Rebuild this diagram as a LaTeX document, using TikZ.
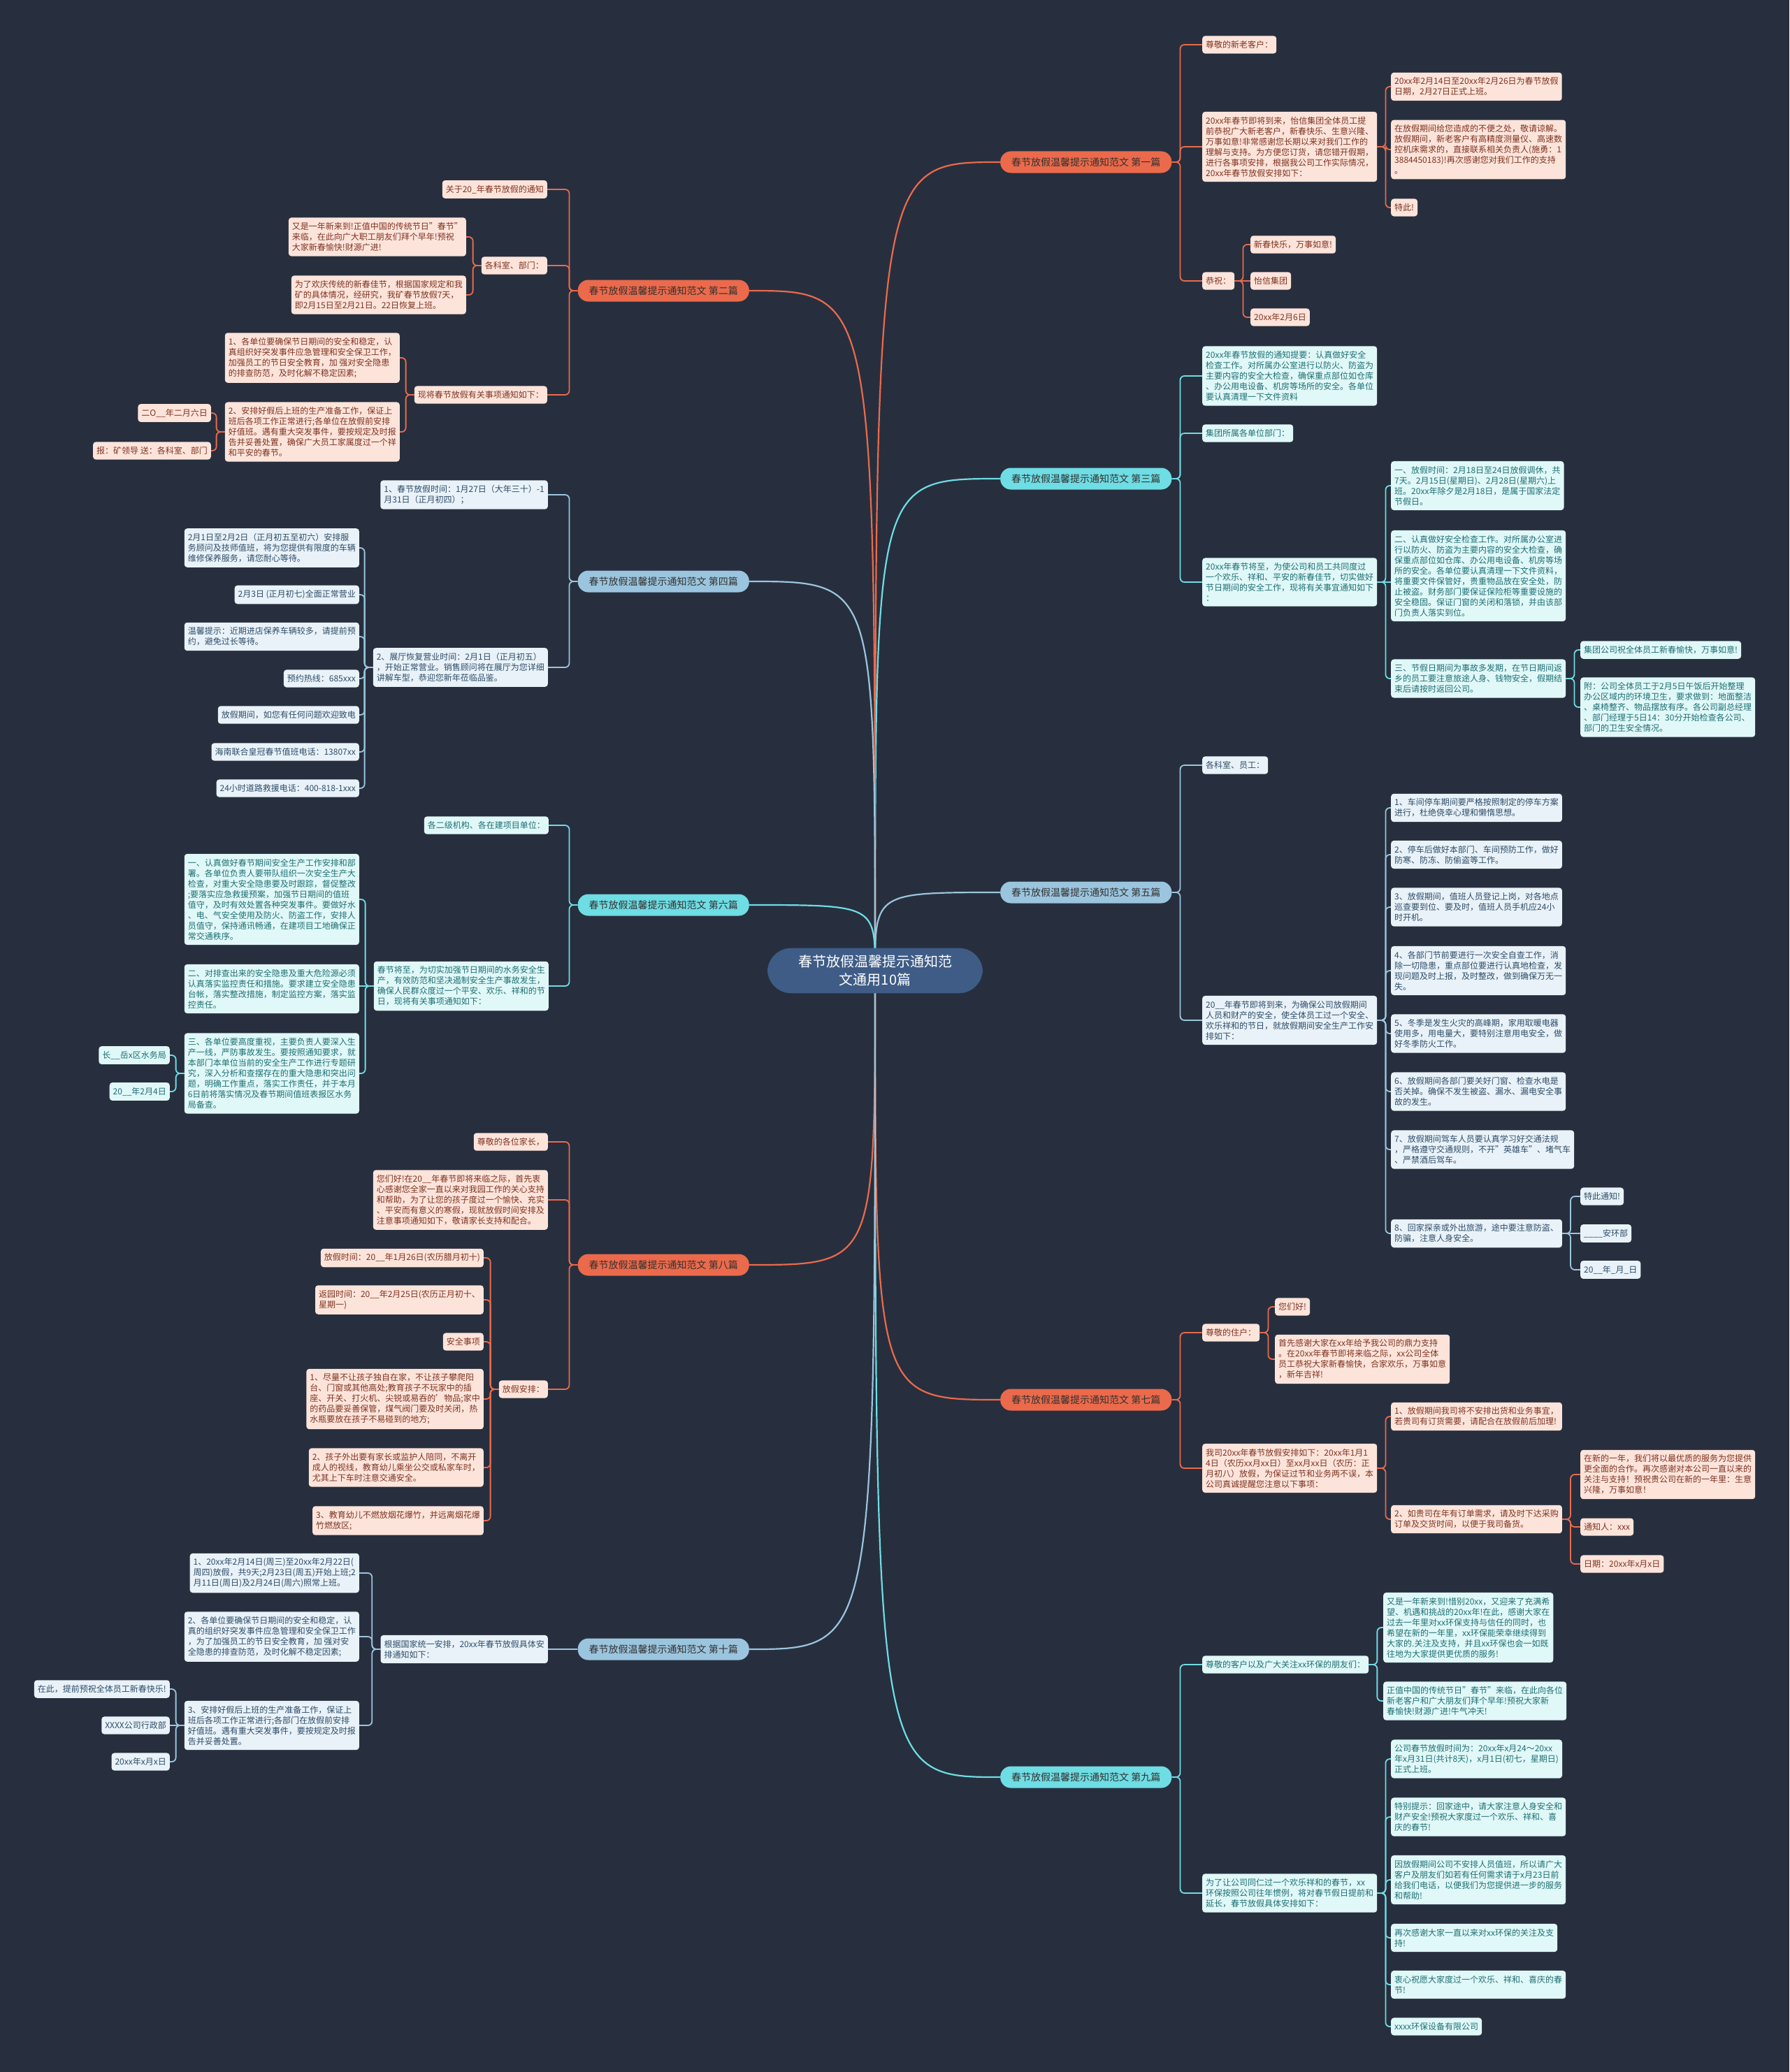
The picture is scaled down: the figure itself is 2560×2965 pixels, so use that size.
\documentclass[tikz,border=0pt]{standalone}
\usepackage{fontspec}
\setmainfont{Noto Sans CJK SC}
\usetikzlibrary{calc,backgrounds}
\definecolor{bgc}{HTML}{272F3E}
\definecolor{ctrc}{HTML}{3E5C86}
\definecolor{org}{HTML}{EB6A4B}
\definecolor{cyn}{HTML}{6EDDE4}
\definecolor{lbl}{HTML}{9BC5DE}
\definecolor{orl}{HTML}{FDE4DB}
\definecolor{ort}{HTML}{7E3320}
\definecolor{cyl}{HTML}{E1F8F8}
\definecolor{cyt}{HTML}{1D6F73}
\definecolor{lbf}{HTML}{E9F2F8}
\definecolor{lbt}{HTML}{2E4C69}
\definecolor{brt}{HTML}{33302F}
\newcommand{\rlink}[3]{\draw[#1] (#2.east) -- ++(12,0) |- (#3.west);}
\newcommand{\llink}[3]{\draw[#1] (#2.west) -- ++(-12,0) |- (#3.east);}
\newcommand{\rflat}[3]{\draw[#1] (#2.east) -- (#2.east -| #3.west);}
\newcommand{\lflat}[3]{\draw[#1] (#2.west) -- (#2.west -| #3.east);}
\newcommand{\rbend}[2]{\draw[#1] (root.center) .. controls (root.center |- #2.west) .. (#2.west);}
\newcommand{\lbend}[2]{\draw[#1] (root.center) .. controls (root.center |- #2.east) .. (#2.east);}
\tikzset{
  ctr/.style={fill=ctrc,text=white,rounded corners=34pt,align=center,inner xsep=44pt,inner ysep=10pt,font=\fontsize{20}{26}\selectfont},
  br/.style={rounded corners=15pt,minimum height=31pt,inner xsep=16pt,text=brt,font=\fontsize{14}{17}\selectfont},
  obr/.style={br,fill=org}, cbr/.style={br,fill=cyn}, bbr/.style={br,fill=lbl},
  lf/.style={rounded corners=4pt,align=left,inner xsep=5pt,inner ysep=7pt,font=\fontsize{12}{15}\selectfont},
  olf/.style={lf,fill=orl,text=ort}, clf/.style={lf,fill=cyl,text=cyt}, blf/.style={lf,fill=lbf,text=lbt},
  lk/.style={line width=1.8pt,rounded corners=6pt},
  olk/.style={lk,draw=org}, clk/.style={lk,draw=cyn}, blk/.style={lk,draw=lbl},
  mn/.style={line width=2.2pt},
  omn/.style={mn,draw=org}, cmn/.style={mn,draw=cyn}, bmn/.style={mn,draw=lbl},
}
\begin{document}
\begin{tikzpicture}[x=1pt,y=-1pt]
  \useasboundingbox (0,0) rectangle (2560,2965);
  \begin{scope}[on background layer]
    \fill[bgc] (0,0) rectangle (2560,2965);
  \end{scope}

  \node[ctr] (root) at (1252,1389) {春节放假温馨提示通知范\\文通用10篇};

  % branches
  \node[obr,anchor=west] (b1) at (1431,232) {春节放假温馨提示通知范文 第一篇};
  \node[cbr,anchor=west] (b3) at (1431,685) {春节放假温馨提示通知范文 第三篇};
  \node[bbr,anchor=west] (b5) at (1431,1277) {春节放假温馨提示通知范文 第五篇};
  \node[obr,anchor=west] (b7) at (1431,2003) {春节放假温馨提示通知范文 第七篇};
  \node[cbr,anchor=west] (b9) at (1431,2543) {春节放假温馨提示通知范文 第九篇};
  \node[obr,anchor=east] (b2) at (1072,416) {春节放假温馨提示通知范文 第二篇};
  \node[bbr,anchor=east] (b4) at (1072,832) {春节放假温馨提示通知范文 第四篇};
  \node[cbr,anchor=east] (b6) at (1072,1295) {春节放假温馨提示通知范文 第六篇};
  \node[obr,anchor=east] (b8) at (1072,1810) {春节放假温馨提示通知范文 第八篇};
  \node[bbr,anchor=east] (b10) at (1072,2360) {春节放假温馨提示通知范文 第十篇};

  % 第一篇
  \node[olf,anchor=west] (a1) at (1720,64) {尊敬的新老客户：};
  \node[olf,anchor=west] (a2) at (1720,210) {20xx年春节即将到来，怡信集团全体员工提\\前恭祝广大新老客户，新春快乐、生意兴隆、\\万事如意!非常感谢您长期以来对我们工作的\\理解与支持。为方便您订货，请您错开假期，\\进行各事项安排，根据我公司工作实际情况，\\20xx年春节放假安排如下：};
  \node[olf,anchor=west] (a3) at (1720,402) {恭祝：};
  \node[olf,anchor=west] (a21) at (1990,124) {20xx年2月14日至20xx年2月26日为春节放假\\日期，2月27日正式上班。};
  \node[olf,anchor=west] (a22) at (1990,214) {在放假期间给您造成的不便之处，敬请谅解。\\放假期间，新老客户有高精度测量仪、高速数\\控机床需求的，直接联系相关负责人(施勇：1\\3884450183)!再次感谢您对我们工作的支持\\。};
  \node[olf,anchor=west] (a23) at (1990,297) {特此!};
  \node[olf,anchor=west] (a31) at (1789,350) {新春快乐，万事如意!};
  \node[olf,anchor=west] (a32) at (1789,402) {怡信集团};
  \node[olf,anchor=west] (a33) at (1789,454) {20xx年2月6日};

  % 第三篇
  \node[clf,anchor=west] (c1) at (1720,538) {20xx年春节放假的通知提要：认真做好安全\\检查工作。对所属办公室进行以防火、防盗为\\主要内容的安全大检查，确保重点部位如仓库\\、办公用电设备、机房等场所的安全。各单位\\要认真清理一下文件资料};
  \node[clf,anchor=west] (c2) at (1720,620) {集团所属各单位部门：};
  \node[clf,anchor=west] (c3) at (1720,833) {20xx年春节将至，为使公司和员工共同度过\\一个欢乐、祥和、平安的新春佳节，切实做好\\节日期间的安全工作，现将有关事宜通知如下\\：};
  \node[clf,anchor=west] (c31) at (1990,695) {一、放假时间：2月18日至24日放假调休，共\\7天。2月15日(星期日)、2月28日(星期六)上\\班。20xx年除夕是2月18日，是属于国家法定\\节假日。};
  \node[clf,anchor=west] (c32) at (1990,824) {二、认真做好安全检查工作。对所属办公室进\\行以防火、防盗为主要内容的安全大检查，确\\保重点部位如仓库、办公用电设备、机房等场\\所的安全。各单位要认真清理一下文件资料，\\将重要文件保管好，贵重物品放在安全处，防\\止被盗。财务部门要保证保险柜等重要设施的\\安全稳固。保证门窗的关闭和落锁，并由该部\\门负责人落实到位。};
  \node[clf,anchor=west] (c33) at (1990,971) {三、节假日期间为事故多发期，在节日期间返\\乡的员工要注意旅途人身、钱物安全，假期结\\束后请按时返回公司。};
  \node[clf,anchor=west] (c331) at (2261,930) {集团公司祝全体员工新春愉快，万事如意!};
  \node[clf,anchor=west] (c332) at (2261,1012) {附：公司全体员工于2月5日午饭后开始整理\\办公区域内的环境卫生，要求做到：地面整洁\\、桌椅整齐、物品摆放有序。各公司副总经理\\、部门经理于5日14：30分开始检查各公司、\\部门的卫生安全情况。};

  % 第五篇
  \node[blf,anchor=west] (e1) at (1720,1095) {各科室、员工：};
  \node[blf,anchor=west] (e2) at (1720,1460) {20\_\_年春节即将到来，为确保公司放假期间\\人员和财产的安全，使全体员工过一个安全、\\欢乐祥和的节日，就放假期间安全生产工作安\\排如下：};
  \node[blf,anchor=west] (e21) at (1990,1156) {1、车间停车期间要严格按照制定的停车方案\\进行，杜绝侥幸心理和懒惰思想。};
  \node[blf,anchor=west] (e22) at (1990,1223) {2、停车后做好本部门、车间预防工作，做好\\防寒、防冻、防偷盗等工作。};
  \node[blf,anchor=west] (e23) at (1990,1298) {3、放假期间，值班人员登记上岗，对各地点\\巡查要到位、要及时，值班人员手机应24小\\时开机。};
  \node[blf,anchor=west] (e24) at (1990,1389) {4、各部门节前要进行一次安全自查工作，消\\除一切隐患，重点部位要进行认真地检查，发\\现问题及时上报，及时整改，做到确保万无一\\失。};
  \node[blf,anchor=west] (e25) at (1990,1479) {5、冬季是发生火灾的高峰期，家用取暖电器\\使用多，用电量大，要特别注意用电安全，做\\好冬季防火工作。};
  \node[blf,anchor=west] (e26) at (1990,1562) {6、放假期间各部门要关好门窗、检查水电是\\否关掉。确保不发生被盗、漏水、漏电安全事\\故的发生。};
  \node[blf,anchor=west] (e27) at (1990,1645) {7、放假期间驾车人员要认真学习好交通法规\\，严格遵守交通规则，不开"英雄车"、堵气车\\、严禁酒后驾车。};
  \node[blf,anchor=west] (e28) at (1990,1765) {8、回家探亲或外出旅游，途中要注意防盗、\\防骗，注意人身安全。};
  \node[blf,anchor=west] (e281) at (2261,1712) {特此通知!};
  \node[blf,anchor=west] (e282) at (2261,1765) {\_\_\_\_安环部};
  \node[blf,anchor=west] (e283) at (2261,1817) {20\_\_年\_月\_日};

  % 第七篇
  \node[olf,anchor=west] (g1) at (1720,1907) {尊敬的住户：};
  \node[olf,anchor=west] (g2) at (1720,2101) {我司20xx年春节放假安排如下：20xx年1月1\\4日（农历xx月xx日）至xx月xx日（农历：正\\月初八）放假，为保证过节和业务两不误，本\\公司真诚提醒您注意以下事项：};
  \node[olf,anchor=west] (g11) at (1824,1870) {您们好!};
  \node[olf,anchor=west] (g12) at (1824,1945) {首先感谢大家在xx年给予我公司的鼎力支持\\。在20xx年春节即将来临之际，xx公司全体\\员工恭祝大家新春愉快，合家欢乐，万事如意\\，新年吉祥!};
  \node[olf,anchor=west] (g21) at (1990,2027) {1、放假期间我司将不安排出货和业务事宜，\\若贵司有订货需要，请配合在放假前后加理!};
  \node[olf,anchor=west] (g22) at (1990,2174) {2、如贵司在年有订单需求，请及时下达采购\\订单及交货时间，以便于我司备货。};
  \node[olf,anchor=west] (g221) at (2261,2110) {在新的一年，我们将以最优质的服务为您提供\\更全面的合作。再次感谢对本公司一直以来的\\关注与支持！预祝贵公司在新的一年里：生意\\兴隆，万事如意！};
  \node[olf,anchor=west] (g222) at (2261,2185) {通知人：xxx};
  \node[olf,anchor=west] (g223) at (2261,2238) {日期：20xx年x月x日};

  % 第九篇
  \node[clf,anchor=west] (i1) at (1720,2382) {尊敬的客户以及广大关注xx环保的朋友们：};
  \node[clf,anchor=west] (i2) at (1720,2709) {为了让公司同仁过一个欢乐祥和的春节，xx\\环保按照公司往年惯例，将对春节假日提前和\\延长，春节放假具体安排如下：};
  \node[clf,anchor=west] (i11) at (1979,2329) {又是一年新来到!惜别20xx，又迎来了充满希\\望、机遇和挑战的20xx年!在此，感谢大家在\\过去一年里对xx环保支持与信任的同时，也\\希望在新的一年里，xx环保能荣幸继续得到\\大家的.关注及支持，并且xx环保也会一如既\\往地为大家提供更优质的服务!};
  \node[clf,anchor=west] (i12) at (1979,2434) {正值中国的传统节日"春节"来临，在此向各位\\新老客户和广大朋友们拜个早年!预祝大家新\\春愉快!财源广进!牛气冲天!};
  \node[clf,anchor=west] (i21) at (1990,2517) {公司春节放假时间为：20xx年x月24～20xx\\年x月31日(共计8天)，x月1日(初七，星期日)\\正式上班。};
  \node[clf,anchor=west] (i22) at (1990,2600) {特别提示：回家途中，请大家注意人身安全和\\财产安全!预祝大家度过一个欢乐、祥和、喜\\庆的春节!};
  \node[clf,anchor=west] (i23) at (1990,2690) {因放假期间公司不安排人员值班，所以请广大\\客户及朋友们如若有任何需求请于x月23日前\\给我们电话，以便我们为您提供进一步的服务\\和帮助!};
  \node[clf,anchor=west] (i24) at (1990,2773) {再次感谢大家一直以来对xx环保的关注及支\\持!};
  \node[clf,anchor=west] (i25) at (1990,2840) {衷心祝愿大家度过一个欢乐、祥和、喜庆的春\\节!};
  \node[clf,anchor=west] (i26) at (1990,2900) {xxxx环保设备有限公司};

  % 第二篇
  \node[olf,anchor=east] (d1) at (783,271) {关于20\_年春节放假的通知};
  \node[olf,anchor=east] (d2) at (783,380) {各科室、部门：};
  \node[olf,anchor=east] (d3) at (783,565) {现将春节放假有关事项通知如下：};
  \node[olf,anchor=east] (d21) at (667,339) {又是一年新来到!正值中国的传统节日"春节"\\来临，在此向广大职工朋友们拜个早年!预祝\\大家新春愉快!财源广进!};
  \node[olf,anchor=east] (d22) at (667,422) {为了欢庆传统的新春佳节，根据国家规定和我\\矿的具体情况，经研究，我矿春节放假7天，\\即2月15日至2月21日。22日恢复上班。};
  \node[olf,anchor=east] (d31) at (572,512) {1、各单位要确保节日期间的安全和稳定，认\\真组织好突发事件应急管理和安全保卫工作，\\加强员工的节日安全教育，加 强对安全隐患\\的排查防范，及时化解不稳定因素;};
  \node[olf,anchor=east] (d32) at (572,618) {2、安排好假后上班的生产准备工作，保证上\\班后各项工作正常进行;各单位在放假前安排\\好值班。遇有重大突发事件，要按规定及时报\\告并妥善处置，确保广大员工家属度过一个祥\\和平安的春节。};
  \node[olf,anchor=east] (d321) at (302,591) {二O\_\_年二月六日};
  \node[olf,anchor=east] (d322) at (302,645) {报：矿领导 送：各科室、部门};

  % 第四篇
  \node[blf,anchor=east] (f1) at (784,708) {1、春节放假时间：1月27日（大年三十）-1\\月31日（正月初四）；};
  \node[blf,anchor=east] (f2) at (784,955) {2、展厅恢复营业时间：2月1日（正月初五）\\，开始正常营业。销售顾问将在展厅为您详细\\讲解车型，恭迎您新年莅临品鉴。};
  \node[blf,anchor=east] (f21) at (514,784) {2月1日至2月2日（正月初五至初六）安排服\\务顾问及技师值班，将为您提供有限度的车辆\\维修保养服务，请您耐心等待。};
  \node[blf,anchor=east] (f22) at (514,851) {2月3日 (正月初七)全面正常营业};
  \node[blf,anchor=east] (f23) at (514,911) {温馨提示：近期进店保养车辆较多，请提前预\\约，避免过长等待。};
  \node[blf,anchor=east] (f24) at (514,971) {预约热线：685xxx};
  \node[blf,anchor=east] (f25) at (514,1023) {放假期间，如您有任何问题欢迎致电};
  \node[blf,anchor=east] (f26) at (514,1076) {海南联合皇冠春节值班电话：13807xx};
  \node[blf,anchor=east] (f27) at (514,1128) {24小时道路救援电话：400-818-1xxx};

  % 第六篇
  \node[clf,anchor=east] (h1) at (785,1181) {各二级机构、各在建项目单位：};
  \node[clf,anchor=east] (h2) at (785,1411) {春节将至，为切实加强节日期间的水务安全生\\产，有效防范和坚决遏制安全生产事故发生，\\确保人民群众度过一个平安、欢乐、祥和的节\\日，现将有关事项通知如下：};
  \node[clf,anchor=east] (h21) at (514,1287) {一、认真做好春节期间安全生产工作安排和部\\署。各单位负责人要带队组织一次安全生产大\\检查，对重大安全隐患要及时跟踪，督促整改\\;要落实应急救援预案，加强节日期间的值班\\值守，及时有效处置各种突发事件。要做好水\\、电、气安全使用及防火、防盗工作，安排人\\员值守，保持通讯畅通，在建项目工地确保正\\常交通秩序。};
  \node[clf,anchor=east] (h22) at (514,1415) {二、对排查出来的安全隐患及重大危险源必须\\认真落实监控责任和措施。要求建立安全隐患\\台帐，落实整改措施，制定监控方案，落实监\\控责任。};
  \node[clf,anchor=east] (h23) at (514,1536) {三、各单位要高度重视，主要负责人要深入生\\产一线，严防事故发生。要按照通知要求，就\\本部门本单位当前的安全生产工作进行专题研\\究，深入分析和查摆存在的重大隐患和突出问\\题，明确工作重点，落实工作责任，并于本月\\6日前将落实情况及春节期间值班表报区水务\\局备查。};
  \node[clf,anchor=east] (h231) at (243,1510) {长\_\_岳x区水务局};
  \node[clf,anchor=east] (h232) at (243,1562) {20\_\_年2月4日};

  % 第八篇
  \node[olf,anchor=east] (j1) at (784,1634) {尊敬的各位家长，};
  \node[olf,anchor=east] (j2) at (784,1717) {您们好!在20\_\_年春节即将来临之际，首先衷\\心感谢您全家一直以来对我园工作的关心支持\\和帮助，为了让您的孩子度过一个愉快、充实\\、平安而有意义的寒假，现就放假时间安排及\\注意事项通知如下，敬请家长支持和配合。};
  \node[olf,anchor=east] (j3) at (784,1988) {放假安排：};
  \node[olf,anchor=east] (j31) at (692,1800) {放假时间：20\_\_年1月26日(农历腊月初十)};
  \node[olf,anchor=east] (j32) at (692,1860) {返园时间：20\_\_年2月25日(农历正月初十、\\星期一)};
  \node[olf,anchor=east] (j33) at (692,1920) {安全事项};
  \node[olf,anchor=east] (j34) at (692,2002) {1、尽量不让孩子独自在家，不让孩子攀爬阳\\台、门窗或其他高处;教育孩子不玩家中的插\\座、开关、打火机、尖锐或易吞的'物品;家中\\的药品要妥善保管，煤气阀门要及时关闭，热\\水瓶要放在孩子不易碰到的地方;};
  \node[olf,anchor=east] (j35) at (692,2100) {2、孩子外出要有家长或监护人陪同，不离开\\成人的视线，教育幼儿乘坐公交或私家车时，\\尤其上下车时注意交通安全。};
  \node[olf,anchor=east] (j36) at (692,2176) {3、教育幼儿不燃放烟花爆竹，并远离烟花爆\\竹燃放区;};

  % 第十篇
  \node[blf,anchor=east] (k1) at (784,2360) {根据国家统一安排，20xx年春节放假具体安\\排通知如下：};
  \node[blf,anchor=east] (k11) at (514,2251) {1、20xx年2月14日(周三)至20xx年2月22日(\\周四)放假，共9天;2月23日(周五)开始上班;2\\月11日(周日)及2月24日(周六)照常上班。};
  \node[blf,anchor=east] (k12) at (514,2342) {2、各单位要确保节日期间的安全和稳定，认\\真的组织好突发事件应急管理和安全保卫工作\\，为了加强员工的节日安全教育，加 强对安\\全隐患的排查防范，及时化解不稳定因素;};
  \node[blf,anchor=east] (k13) at (514,2469) {3、安排好假后上班的生产准备工作，保证上\\班后各项工作正常进行;各部门在放假前安排\\好值班。遇有重大突发事件，要按规定及时报\\告并妥善处置。};
  \node[blf,anchor=east] (k131) at (243,2417) {在此，提前预祝全体员工新春快乐!};
  \node[blf,anchor=east] (k132) at (243,2469) {XXXX公司行政部};
  \node[blf,anchor=east] (k133) at (243,2521) {20xx年x月x日};

  \begin{scope}[on background layer]
    \rbend{omn}{b1} \rbend{cmn}{b3} \rbend{bmn}{b5} \rbend{omn}{b7} \rbend{cmn}{b9}
    \lbend{omn}{b2} \lbend{bmn}{b4} \lbend{cmn}{b6} \lbend{omn}{b8} \lbend{bmn}{b10}

    \rlink{olk}{b1}{a1} \rlink{olk}{b1}{a2} \rlink{olk}{b1}{a3}
    \rlink{olk}{a2}{a21} \rlink{olk}{a2}{a22} \rlink{olk}{a2}{a23}
    \rlink{olk}{a3}{a31} \rflat{olk}{a3}{a32} \rlink{olk}{a3}{a33}

    \rlink{clk}{b3}{c1} \rlink{clk}{b3}{c2} \rlink{clk}{b3}{c3}
    \rlink{clk}{c3}{c31} \rflat{clk}{c3}{c32} \rlink{clk}{c3}{c33}
    \rlink{clk}{c33}{c331} \rlink{clk}{c33}{c332}

    \rlink{blk}{b5}{e1} \rlink{blk}{b5}{e2}
    \foreach \n in {e21,e22,e23,e24,e25,e26,e27,e28} {\rlink{blk}{e2}{\n}}
    \rlink{blk}{e28}{e281} \rflat{blk}{e28}{e282} \rlink{blk}{e28}{e283}

    \rlink{olk}{b7}{g1} \rlink{olk}{b7}{g2}
    \rlink{olk}{g1}{g11} \rlink{olk}{g1}{g12}
    \rlink{olk}{g2}{g21} \rlink{olk}{g2}{g22}
    \rlink{olk}{g22}{g221} \rlink{olk}{g22}{g222} \rlink{olk}{g22}{g223}

    \rlink{clk}{b9}{i1} \rlink{clk}{b9}{i2}
    \rlink{clk}{i1}{i11} \rlink{clk}{i1}{i12}
    \foreach \n in {i21,i22,i23,i24,i25,i26} {\rlink{clk}{i2}{\n}}

    \llink{olk}{b2}{d1} \llink{olk}{b2}{d2} \llink{olk}{b2}{d3}
    \llink{olk}{d2}{d21} \llink{olk}{d2}{d22}
    \llink{olk}{d3}{d31} \llink{olk}{d3}{d32}
    \llink{olk}{d32}{d321} \llink{olk}{d32}{d322}

    \llink{blk}{b4}{f1} \llink{blk}{b4}{f2}
    \foreach \n in {f21,f22,f23,f24,f25,f26,f27} {\llink{blk}{f2}{\n}}

    \llink{clk}{b6}{h1} \llink{clk}{b6}{h2}
    \llink{clk}{h2}{h21} \lflat{clk}{h2}{h22} \llink{clk}{h2}{h23}
    \llink{clk}{h23}{h231} \llink{clk}{h23}{h232}

    \llink{olk}{b8}{j1} \llink{olk}{b8}{j2} \llink{olk}{b8}{j3}
    \foreach \n in {j31,j32,j33,j34,j35,j36} {\llink{olk}{j3}{\n}}

    \lflat{blk}{b10}{k1}
    \llink{blk}{k1}{k11} \llink{blk}{k1}{k12} \llink{blk}{k1}{k13}
    \llink{blk}{k13}{k131} \lflat{blk}{k13}{k132} \llink{blk}{k13}{k133}
  \end{scope}
\end{tikzpicture}
\end{document}
